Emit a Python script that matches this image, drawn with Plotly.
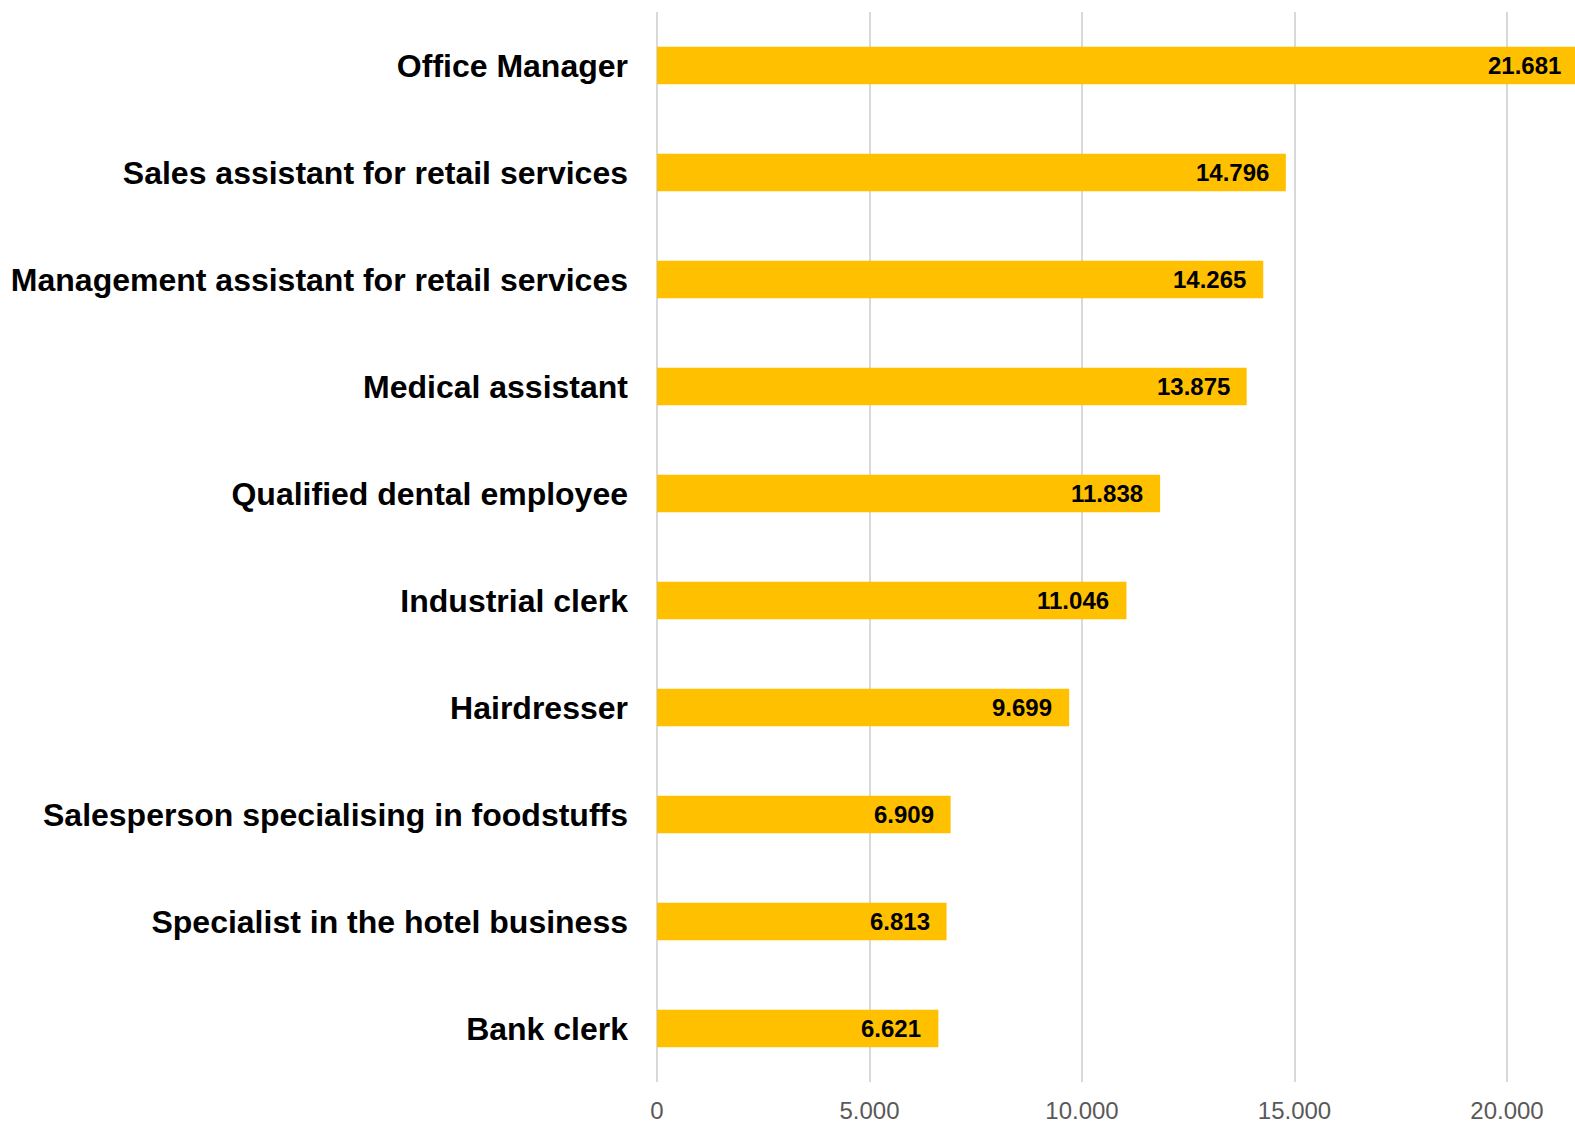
import plotly.graph_objects as go

# Occupations, top to bottom
occupations = [
    "Office Manager",
    "Sales assistant for retail services",
    "Management assistant for retail services",
    "Medical assistant",
    "Qualified dental employee",
    "Industrial clerk",
    "Hairdresser",
    "Salesperson specialising in foodstuffs",
    "Specialist in the hotel business",
    "Bank clerk",
]
counts = [21681, 14796, 14265, 13875, 11838, 11046, 9699, 6909, 6813, 6621]
tick_values = [0, 5000, 10000, 15000, 20000]

X_MAX = 21600
BAR_COLOR = "#FFC000"
GRID_COLOR = "#D9D9D9"
FONT = "Liberation Sans, Arial, sans-serif"

fig = go.Figure(
    go.Bar(
        x=counts,
        y=occupations,
        orientation="h",
        marker=dict(color=BAR_COLOR, line=dict(width=0)),
        hoverinfo="skip",
    )
)

# Value labels, right-aligned just inside the end of each bar.
# Placed in x-domain units so the longest bar (which runs past the
# axis end) keeps its label.
for occ, val in zip(occupations, counts):
    fig.add_annotation(
        x=val / X_MAX, y=occ, xref="x domain", yref="y",
        text=f"<b>{val:,}</b>".replace(",", "."),
        showarrow=False, xanchor="right", yanchor="middle",
        xshift=-15,
        font=dict(family=FONT, size=24, color="#000000"),
    )

fig.update_layout(
    width=1575, height=1124,
    margin=dict(l=657, r=0, t=12, b=42),
    paper_bgcolor="white", plot_bgcolor="white",
    separators=",.",
    bargap=0.65,
    showlegend=False,
    font=dict(family=FONT),
)

fig.update_xaxes(
    range=[0, X_MAX],
    tickvals=tick_values,
    tickformat=",d",
    showgrid=True, gridcolor=GRID_COLOR, gridwidth=2,
    zeroline=True, zerolinecolor=GRID_COLOR, zerolinewidth=2,
    showline=False, ticks="",
    tickfont=dict(family=FONT, size=24, color="#595959"),
    ticklabelstandoff=12,
    fixedrange=True,
)

fig.update_yaxes(
    autorange="reversed",
    showgrid=False, zeroline=False, showline=False, ticks="",
    tickfont=dict(family=FONT, size=32, color="#000000", weight="bold"),
    ticklabelstandoff=28,
    fixedrange=True,
)

fig.write_html("out.html", config=dict(displayModeBar=False))
